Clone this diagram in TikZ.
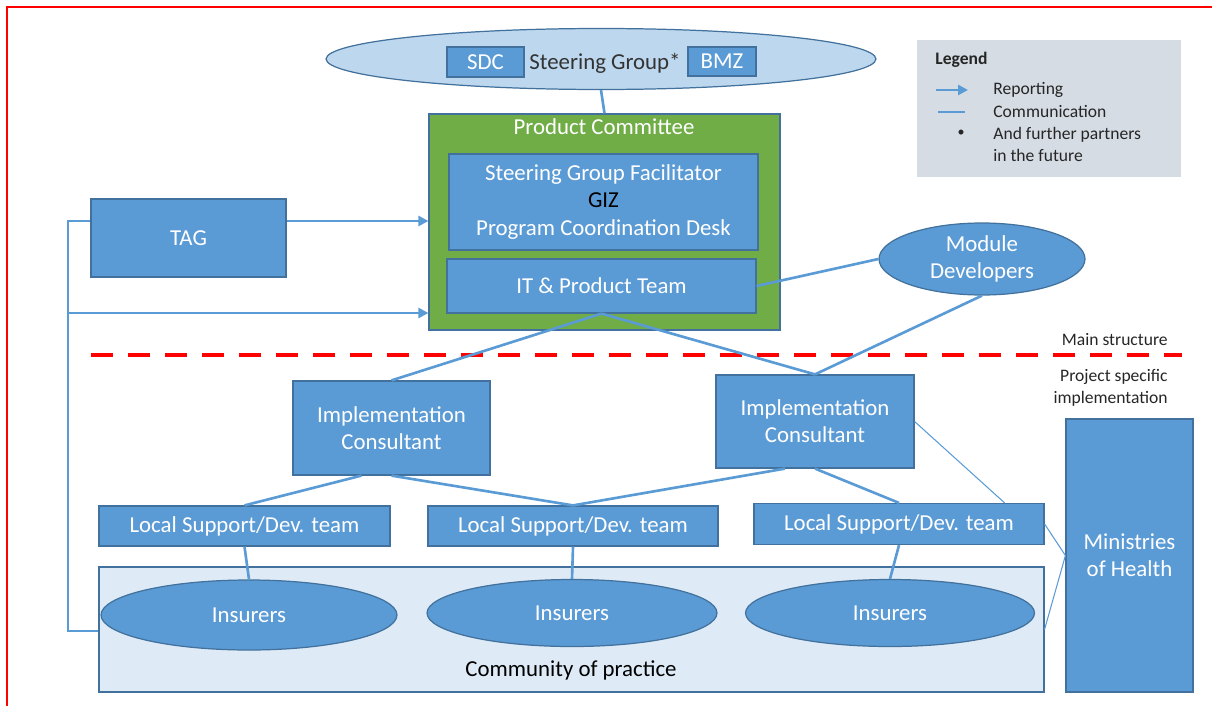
\documentclass[tikz,border=0pt]{standalone}
\usepackage{fontspec}
\setmainfont{Carlito}
\usetikzlibrary{shapes.geometric,arrows.meta,calc}
\definecolor{bleu}{HTML}{5B9BD5}
\definecolor{bord}{HTML}{41719C}
\definecolor{vert}{HTML}{70AD47}
\definecolor{ciel}{HTML}{BDD7EE}
\definecolor{pale}{HTML}{DEEBF7}
\definecolor{gris}{HTML}{D6DCE4}
\begin{document}
\begin{tikzpicture}[x=0.02cm, y=-0.02cm]
\tikzset{boite/.style={draw=bord, fill=bleu, line width=0.7pt, text=white, inner sep=0pt, align=center, font=\fontsize{13}{15.5}\selectfont},
ovale/.style={boite, ellipse},
lien/.style={draw=bleu, line width=1.5pt},
fin/.style={draw=bleu, line width=0.6pt},
fleche/.style={lien, -{Triangle[length=2mm, width=2mm]}},
petit/.style={inner sep=0pt, text=black!85, font=\fontsize{10}{12.5}\selectfont}}
\useasboundingbox (0,0) rectangle (1212,706);
\draw[red, line width=1.2pt] (7,706) -- (7,7) -- (1212,7);
\node[ovale, fill=ciel, minimum width=11cm, minimum height=1.22cm] (SG) at (601,59) {};
\node[boite, minimum width=1.54cm, minimum height=0.6cm] (SDC) at (485.5,62) {SDC};
\node[boite, minimum width=1.36cm, minimum height=0.58cm] (BMZ) at (722,61.5) {BMZ};
\node[inner sep=0pt, text=black!80, font=\fontsize{13}{15.5}\selectfont] (SGtexte) at (605,63) {Steering Group*};
\node[boite, fill=vert, minimum width=7.02cm, minimum height=4.32cm] (PC) at (604.5,222) {};
\node[inner sep=0pt, text=white, font=\fontsize{13}{15.5}\selectfont] (PCtitre) at (604,127) {Product Committee};
\node[boite, minimum width=6.18cm, minimum height=1.92cm] (SGF) at (603.5,202) {Steering Group Facilitator\\{\color{black}GIZ}\\Program Coordination Desk};
\node[boite, minimum width=6.18cm, minimum height=1.08cm] (IT) at (601.5,286) {IT \& Product Team};
\node[fill=gris, minimum width=5.28cm, minimum height=2.74cm] (legende) at (1049,108.5) {};
\node[petit, anchor=west, font=\fontsize{10}{12.5}\selectfont\bfseries] (legtitre) at (935,60) {Legend};
\coordinate (lgA) at (936,90);
\coordinate (lgB) at (968,90);
\coordinate (lgC) at (938,112);
\coordinate (lgD) at (965,112);
\node[petit, font=\fontsize{8}{10}\selectfont] (lgpoint) at (961,133) {\textbullet};
\node[petit, anchor=west] (lgrapport) at (993,90) {Reporting};
\node[petit, anchor=west] (lgcomm) at (993,111) {Communication};
\node[petit, anchor=west, align=left] (lgautres) at (993,144) {And further partners\\in the future};
\node[boite, minimum width=3.9cm, minimum height=1.56cm] (TAG) at (188.5,238) {TAG};
\node[ovale, minimum width=4.12cm, minimum height=1.44cm] (MD) at (982,259) {Module\\Developers};
\node[petit, anchor=east] (principal) at (1168,340) {Main structure};
\node[petit, anchor=east, align=right] (projet) at (1168,388) {Project specific\\implementation};
\node[boite, minimum width=3.94cm, minimum height=1.88cm] (IC1) at (391.5,428) {Implementation\\Consultant};
\node[boite, minimum width=3.96cm, minimum height=1.86cm] (IC2) at (815,421.5) {Implementation\\Consultant};
\node[boite, minimum width=5.82cm, minimum height=0.8cm] (LS1) at (244.5,526) {Local Support/Dev. team};
\node[boite, minimum width=5.8cm, minimum height=0.8cm] (LS2) at (573,526) {Local Support/Dev. team};
\node[boite, minimum width=5.8cm, minimum height=0.82cm] (LS3) at (899,524) {Local Support/Dev. team};
\node[boite, fill=pale, minimum width=18.9cm, minimum height=2.5cm] (Com) at (571.5,629.5) {};
\node[inner sep=0pt, text=black, font=\fontsize{13}{15.5}\selectfont] (Comtexte) at (571,670) {Community of practice};
\node[ovale, minimum width=5.92cm, minimum height=1.4cm] (I1) at (249,615) {Insurers};
\node[ovale, minimum width=5.8cm, minimum height=1.34cm] (I2) at (572,613) {Insurers};
\node[ovale, minimum width=5.78cm, minimum height=1.34cm] (I3) at (890,613) {Insurers};
\node[boite, minimum width=2.54cm, minimum height=5.46cm] (MoH) at (1129.5,555.5) {Ministries\\of Health};
\coordinate (retourH) at (68,221);
\coordinate (retourM) at (68,313);
\coordinate (retourB) at (68,631);
\coordinate (sepG) at (91,355);
\coordinate (sepD) at (1182,355);
\draw[red, line width=2pt, dash pattern=on 0.44cm off 0.3cm] (sepG) -- (sepD);
\draw[fleche] (lgA) -- (lgB);
\draw[lien] (lgC) -- (lgD);
\draw[lien] (SG.south) -- (PC.north);
\draw[fleche] (TAG.east |- retourH) -- (retourH -| PC.west);
\draw[lien] (TAG.west |- retourH) -- (retourH) -- (retourB) -- (retourB -| Com.west);
\draw[fleche] (retourM) -- (retourM -| PC.west);
\draw[lien] (IT.east) -- (MD.west);
\draw[lien] (MD.south) -- (IC2.north);
\draw[lien] (IT.south) -- (IC1.north);
\draw[lien] (IT.south) -- (IC2.north);
\draw[lien] ($(IC1.south)+(-30,0)$) -- (LS1.north);
\draw[lien] (IC1.south) -- (LS2.north);
\draw[lien] ($(IC2.south)+(-30,0)$) -- (LS2.north);
\draw[lien] (IC2.south) -- (LS3.north);
\draw[fin] (IC2.east) -- ($(LS3.north east)+(-40,0)$);
\draw[fin] (LS3.east) -- (MoH.west);
\draw[fin] (Com.east) -- (MoH.west);
\draw[lien] (LS1.south) -- (I1.north);
\draw[lien] (LS2.south) -- (I2.north);
\draw[lien] (LS3.south) -- (I3.north);
\end{tikzpicture}
\end{document}
